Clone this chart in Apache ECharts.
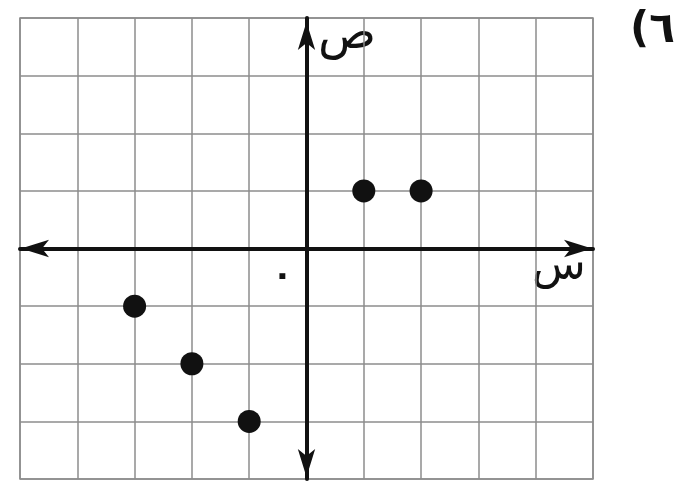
<!DOCTYPE html>
<html>
<head>
    <meta charset="UTF-8">
    <title>نقاط على المستوى الإحداثي</title>
    <script src="https://cdn.jsdelivr.net/npm/echarts@6/dist/echarts.min.js"></script>
    <style>
        html, body { margin: 0; padding: 0; background: #fff; }
        #chart { width: 700px; height: 488px; }
    </style>
</head>
<body>
    <div id="chart"></div>
    <script>
        // النقاط المرسومة
        var pointX = [1, 2, -3, -2, -1];
        var pointY = [1, 1, -1, -2, -3];
        // حدود المحاور
        var xRange = [-5, 5];
        var yRange = [-4, 4];
        // النصوص
        var xName = 'س';
        var yName = 'ص';
        var originLabel = '٠';
        var questionNo = '(٦';

        var points = pointX.map(function (x, i) { return [x, pointY[i]]; });

        var gridColor = '#8c8c8c';
        var axisStyle = function (offs) {
            return {
                show: true,
                onZero: true,
                symbol: ['arrow', 'arrow'],
                symbolSize: [13, 28],
                symbolOffset: offs,
                lineStyle: { color: '#111', width: 4 }
            };
        };

        var chart = echarts.init(document.getElementById('chart'));
        chart.setOption({
            animation: false,
            grid: {
                left: 20, right: 107, top: 18, bottom: 9,
                show: true, borderColor: gridColor, borderWidth: 1.5
            },
            xAxis: {
                type: 'value', min: xRange[0], max: xRange[1], interval: 1,
                axisLine: axisStyle([1, -1]),
                axisTick: { show: false },
                axisLabel: { show: false },
                splitLine: { show: true, lineStyle: { color: gridColor, width: 1.5 } }
            },
            yAxis: {
                type: 'value', min: yRange[0], max: yRange[1], interval: 1,
                axisLine: axisStyle([2, -4]),
                axisTick: { show: false },
                axisLabel: { show: false },
                splitLine: { show: true, lineStyle: { color: gridColor, width: 1.5 } }
            },
            series: [{
                type: 'scatter',
                data: points,
                symbolSize: 23,
                itemStyle: { color: '#111', opacity: 1 },
                z: 5
            }],
            graphic: [
                { type: 'text', left: 318, top: 12, style: { text: yName, font: '48px "DejaVu Sans"', fill: '#111' } },
                { type: 'text', left: 532, top: 246, style: { text: xName, font: '44px "DejaVu Sans"', fill: '#111' } },
                { type: 'text', left: 272, top: 260, style: { text: originLabel, font: 'bold 34px "DejaVu Sans"', fill: '#111' } },
                { type: 'text', left: 630, top: 10, style: { text: questionNo, font: 'bold 42px "DejaVu Sans"', fill: '#111' } }
            ]
        });
    </script>
</body>
</html>
